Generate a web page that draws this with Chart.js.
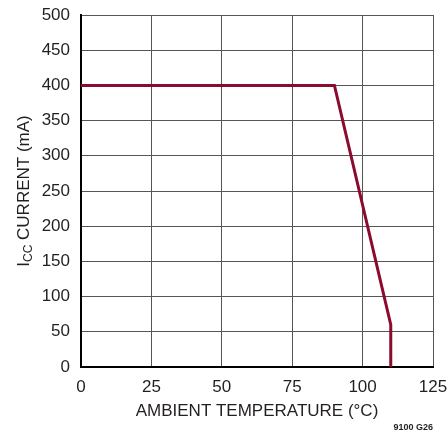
<!DOCTYPE html>
<html lang="en">
<head>
  <meta charset="UTF-8">
  <title>Icc Current vs Ambient Temperature</title>
  <script src="https://cdn.jsdelivr.net/npm/chart.js"></script>
  <style>
    html, body { margin: 0; padding: 0; background: #fff; }
    #wrap { width: 448px; height: 434px; position: relative; }
  </style>
</head>
<body>
<div id="wrap">
  <canvas id="grafico" width="448" height="434"></canvas>
</div>

<script>
  // derating curve
  const temperatura = [0, 90, 110, 110];
  const corrente = [400, 400, 60, 0];
  const xTicks = [0, 25, 50, 75, 100, 125];
  const yTicks = [0, 50, 100, 150, 200, 250, 300, 350, 400, 450, 500];

  const FONTE = '"Liberation Sans", Arial, sans-serif';

  // y title with subscript + figure code
  const textos = {
    id: "textos",
    afterDraw(chart) {
      const ctx = chart.ctx;
      const area = chart.chartArea;
      ctx.save();
      ctx.fillStyle = "#231f20";
      ctx.textBaseline = "middle";

      // Y axis title, rotated
      ctx.translate(24, (area.top + area.bottom) / 2);
      ctx.rotate(-Math.PI / 2);
      const principal = "17px " + FONTE;
      const sub = "12px " + FONTE;
      ctx.font = principal;
      const wI = ctx.measureText("I").width;
      const resto = " CURRENT (mA)";
      const wR = ctx.measureText(resto).width;
      ctx.font = sub;
      const wS = ctx.measureText("CC").width;
      const total = wI + wS + wR;
      let x = -total / 2;
      ctx.textAlign = "left";
      ctx.font = principal;
      ctx.fillText("I", x, 0);
      x += wI;
      ctx.font = sub;
      ctx.fillText("CC", x, 5);
      x += wS;
      ctx.font = principal;
      ctx.fillText(resto, x, 0);
      ctx.restore();

      ctx.save();
      ctx.fillStyle = "#231f20";
      ctx.font = "bold 9px " + FONTE;
      ctx.textAlign = "right";
      ctx.textBaseline = "middle";
      ctx.fillText("9100 G26", area.right, 428);
      ctx.restore();
    }
  };

  const ctx = document.getElementById("grafico").getContext("2d");
  new Chart(ctx, {
    type: "scatter",
    data: {
      datasets: [{
        data: temperatura.map((t, i) => ({ x: t, y: corrente[i] })),
        showLine: true,
        borderColor: "#8c0a2e",
        borderWidth: 3,
        pointRadius: 0,
        tension: 0
      }]
    },
    options: {
      responsive: false,
      animation: false,
      layout: { padding: { top: 15, right: 15, left: 0, bottom: 0 } },
      plugins: {
        legend: { display: false },
        tooltip: { enabled: false }
      },
      scales: {
        x: {
          type: "linear",
          min: 0,
          max: 125,
          afterBuildTicks: s => { s.ticks = xTicks.map(v => ({ value: v })); },
          afterFit: s => { s.height = 67; s.paddingLeft = 0; s.paddingRight = 0; },
          grid: { color: "#555", lineWidth: 1, drawTicks: false },
          border: { color: "#000", width: 2 },
          ticks: {
            padding: 10,
            color: "#231f20",
            font: { family: FONTE, size: 17 },
            maxRotation: 0
          },
          title: {
            display: true,
            text: "AMBIENT TEMPERATURE (°C)",
            color: "#231f20",
            font: { family: FONTE, size: 17 },
            padding: { top: 0, bottom: 12 }
          }
        },
        y: {
          min: 0,
          max: 500,
          afterBuildTicks: s => { s.ticks = yTicks.map(v => ({ value: v })); },
          afterFit: s => { s.width = 81; s.paddingTop = 0; s.paddingBottom = 0; },
          grid: { color: "#555", lineWidth: 1, drawTicks: false },
          border: { color: "#000", width: 2 },
          ticks: {
            padding: 11,
            color: "#231f20",
            font: { family: FONTE, size: 17 }
          }
        }
      }
    },
    plugins: [textos]
  });
</script>
</body>
</html>
